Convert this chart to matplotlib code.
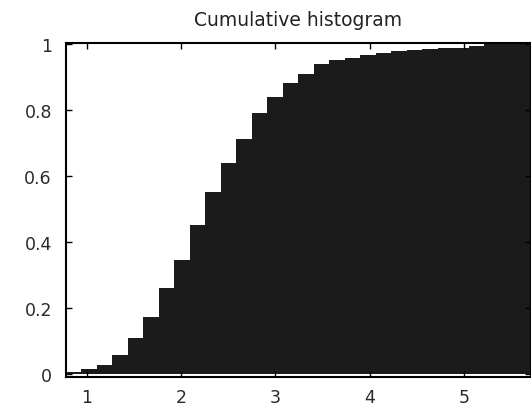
import matplotlib.pyplot as plt
import numpy as np

# bin edges of the histogram (30 equal bins)
bin_left = 0.777
bin_right = 5.71
n_bins = 30

# cumulative fraction at each bin
cum_frac = [0.006, 0.015, 0.027, 0.058, 0.109, 0.173, 0.260, 0.345, 0.452, 0.552,
            0.640, 0.712, 0.790, 0.840, 0.880, 0.910, 0.940, 0.950, 0.956, 0.967,
            0.973, 0.979, 0.980, 0.985, 0.986, 0.988, 0.992, 1.000, 1.000, 1.000]

x_ticks = [1, 2, 3, 4, 5]
y_ticks = [0, 0.2, 0.4, 0.6, 0.8, 1]
y_labels = ['0', '0.2', '0.4', '0.6', '0.8', '1']

edges = np.linspace(bin_left, bin_right, n_bins + 1)

plt.rcParams['font.family'] = ['DejaVu Sans']

fig = plt.figure(figsize=(5.31, 4.06), dpi=100)
ax = fig.add_axes([0.124, 0.069, 0.876, 0.823])

ax.stairs(cum_frac, edges, fill=True, color='#1b1b1b', baseline=0)

ax.set_xlim(bin_left, bin_right)
ax.set_ylim(-0.01, 1.003)
ax.set_xticks(x_ticks)
ax.set_yticks(y_ticks, labels=y_labels)

# MATLAB-like ticks: inside, on both sides
ax.tick_params(axis='both', direction='in', length=4, width=1, labelsize=12.5,
               top=True, right=True, colors='black')
ax.tick_params(axis='x', pad=8)
ax.tick_params(axis='y', pad=10)
for lbl in ax.get_xticklabels() + ax.get_yticklabels():
    lbl.set_color('#2a2a2a')

for side in ['left', 'top', 'bottom', 'right']:
    ax.spines[side].set_linewidth(1.5)

ax.set_title('Cumulative histogram', fontsize=13.5, color='#222222', pad=13)

fig.savefig('out.png', dpi=100)
